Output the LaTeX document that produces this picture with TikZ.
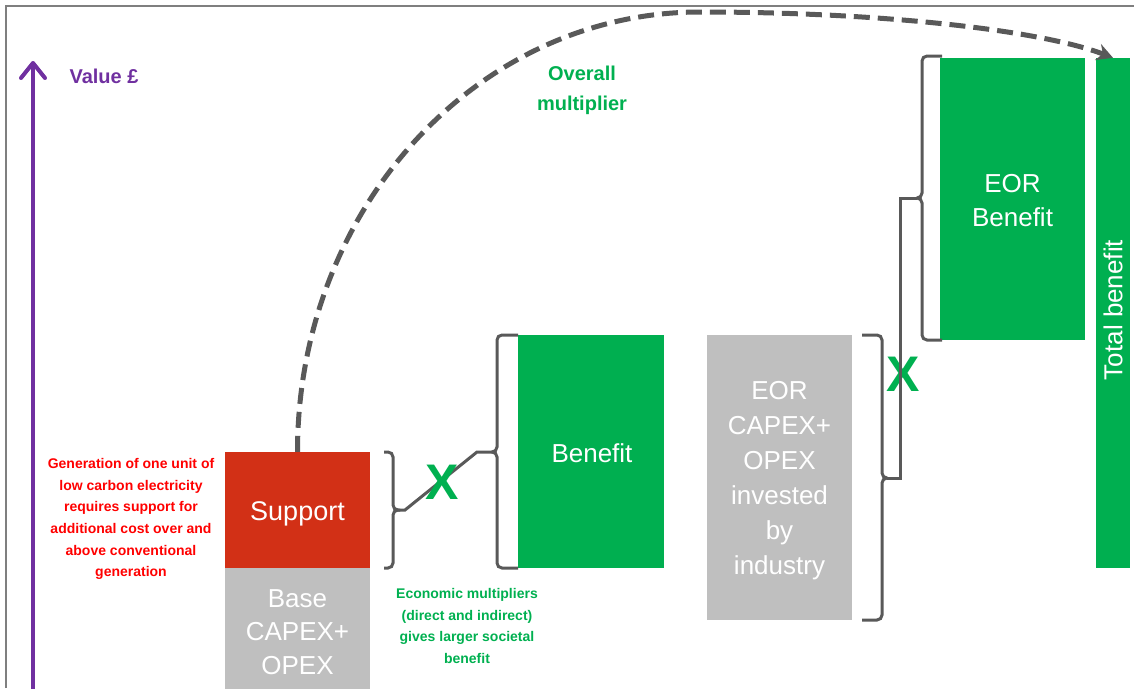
\documentclass[tikz,border=0pt]{standalone}
\usepackage{fontspec}
\setmainfont{Liberation Sans}
\usetikzlibrary{arrows.meta,calc}

\definecolor{supportred}{HTML}{D23016}
\definecolor{boxgreen}{HTML}{00AF50}
\definecolor{boxgrey}{HTML}{BFBFBF}
\definecolor{linegrey}{HTML}{595959}
\definecolor{axispurple}{HTML}{7030A0}
\definecolor{notered}{HTML}{FF0000}
\definecolor{notegreen}{HTML}{00B050}
\definecolor{framegrey}{HTML}{7F7F7F}

% curly bracket: end x, stem x, top y, tip y, bottom y, tip x
\newcommand{\curlybracket}[6]{%
  \draw[bracestroke] (#1,#3) -- (#2,#3) -- (#2,#4) -- (#6,#4);
  \draw[bracestroke] (#6,#4) -- (#2,#4) -- (#2,#5) -- (#1,#5);
}

\begin{document}
\begin{tikzpicture}[x=1pt,y=-1pt,
  bar/.style={draw=none, inner sep=0pt},
  bartext/.style={inner sep=0pt, text=white, align=center,
    font=\fontsize{26}{34}\selectfont},
  note/.style={align=center, inner sep=0pt,
    font=\fontsize{14}{21.7}\selectfont\bfseries},
  heading/.style={align=center, inner sep=0pt,
    font=\fontsize{20}{30}\selectfont\bfseries},
  times/.style={text=notegreen, inner sep=0pt,
    font=\fontsize{50}{50}\selectfont\bfseries},
  bracestroke/.style={draw=linegrey, line width=3pt, rounded corners=5pt},
  link/.style={draw=linegrey, line width=3pt},
]
\useasboundingbox (0,0) rectangle (1134,688);

% outer frame
\draw[framegrey, line width=1.5pt] (6,688) -- (6,6) -- (1134,6);

% value axis
\coordinate (axisfoot) at (33,690);
\coordinate (axistop) at (33,61);
\draw[axispurple, line width=4pt,
  -{Straight Barb[length=15pt,width=24pt,line cap=round,round]}] (axisfoot) -- (axistop);
\node[heading, text=axispurple] (valuelabel) at (104,76) {Value £};

% bars
\node[bar, fill=supportred, minimum width=145pt, minimum height=116pt] (support) at (297.5,510) {};
\node[bar, fill=boxgrey, minimum width=145pt, minimum height=122pt] (base) at (297.5,629) {};
\node[bar, fill=boxgreen, minimum width=146pt, minimum height=233pt] (benefit) at (591,451.5) {};
\node[bar, fill=boxgrey, minimum width=145pt, minimum height=285pt] (eorcost) at (779.5,477.5) {};
\node[bar, fill=boxgreen, minimum width=145pt, minimum height=282pt] (eorbenefit) at (1012.5,199) {};
\node[bar, fill=boxgreen, minimum width=34pt, minimum height=510pt] (total) at (1113,313) {};

% bar captions
\node[bartext, font=\fontsize{27}{34}\selectfont] (supportlabel)
  at ($(support.center)+(0,4)$) {Support};
\node[bartext, font=\fontsize{26}{33.5}\selectfont] (baselabel)
  at ($(base.center)+(0,3)$) {Base\\CAPEX+\\OPEX};
\node[bartext] (benefitlabel) at ($(benefit.center)+(1,2)$) {Benefit};
\node[bartext, font=\fontsize{26}{35}\selectfont] (eorcostlabel)
  at ($(eorcost.center)+(0,3)$) {EOR\\CAPEX+\\OPEX\\invested\\by\\industry};
\node[bartext] (eorbenefitlabel) at ($(eorbenefit.center)+(0,2)$) {EOR\\Benefit};
\node[bartext, rotate=90] (totallabel) at ($(total.center)+(0,-3)$) {Total benefit};

% notes
\node[note, text=notered] (supportnote) at (131,519)
  {Generation of one unit of\\low carbon electricity\\requires support for\\additional cost over and\\above conventional\\generation};
\node[note, text=notegreen] (multnote) at (467,626)
  {Economic multipliers\\(direct and indirect)\\gives larger societal\\benefit};
\node[heading, text=notegreen] (overall) at (582,90) {Overall\\multiplier};

% brackets
\curlybracket{384}{393}{452}{510}{568}{400}
\curlybracket{518}{497}{335}{452}{568}{492}
\curlybracket{862}{882}{335}{478}{620}{887}
\curlybracket{942}{922}{56}{198}{340}{917}
\coordinate (b1) at (400,510);
\coordinate (b2) at (492,452);
\coordinate (b3) at (887,478);
\coordinate (b4) at (917,198);

% first multiplier
\draw[link] (b1) -- ++(5,0) -- ($(b2)+(-15,0)$) -- (b2);
\node[times] (x1) at (442,482) {X};

% second multiplier
\node[times] (x2) at (903,374) {X};
\draw[link] (b3) -| ($(b4)+(-17,0)$) -- (b4);

% overall multiplier arc: a quarter ellipse up to the crest, then easing down
\draw[linegrey, line width=5pt, dash pattern=on 16pt off 8pt,
  -{Stealth[length=16pt,width=17pt]}]
  (support.north) .. controls (297.5,209) and (477,12) .. (700,12)
  .. controls (880,12) and (1040,30) .. (total.north);
\end{tikzpicture}
\end{document}
